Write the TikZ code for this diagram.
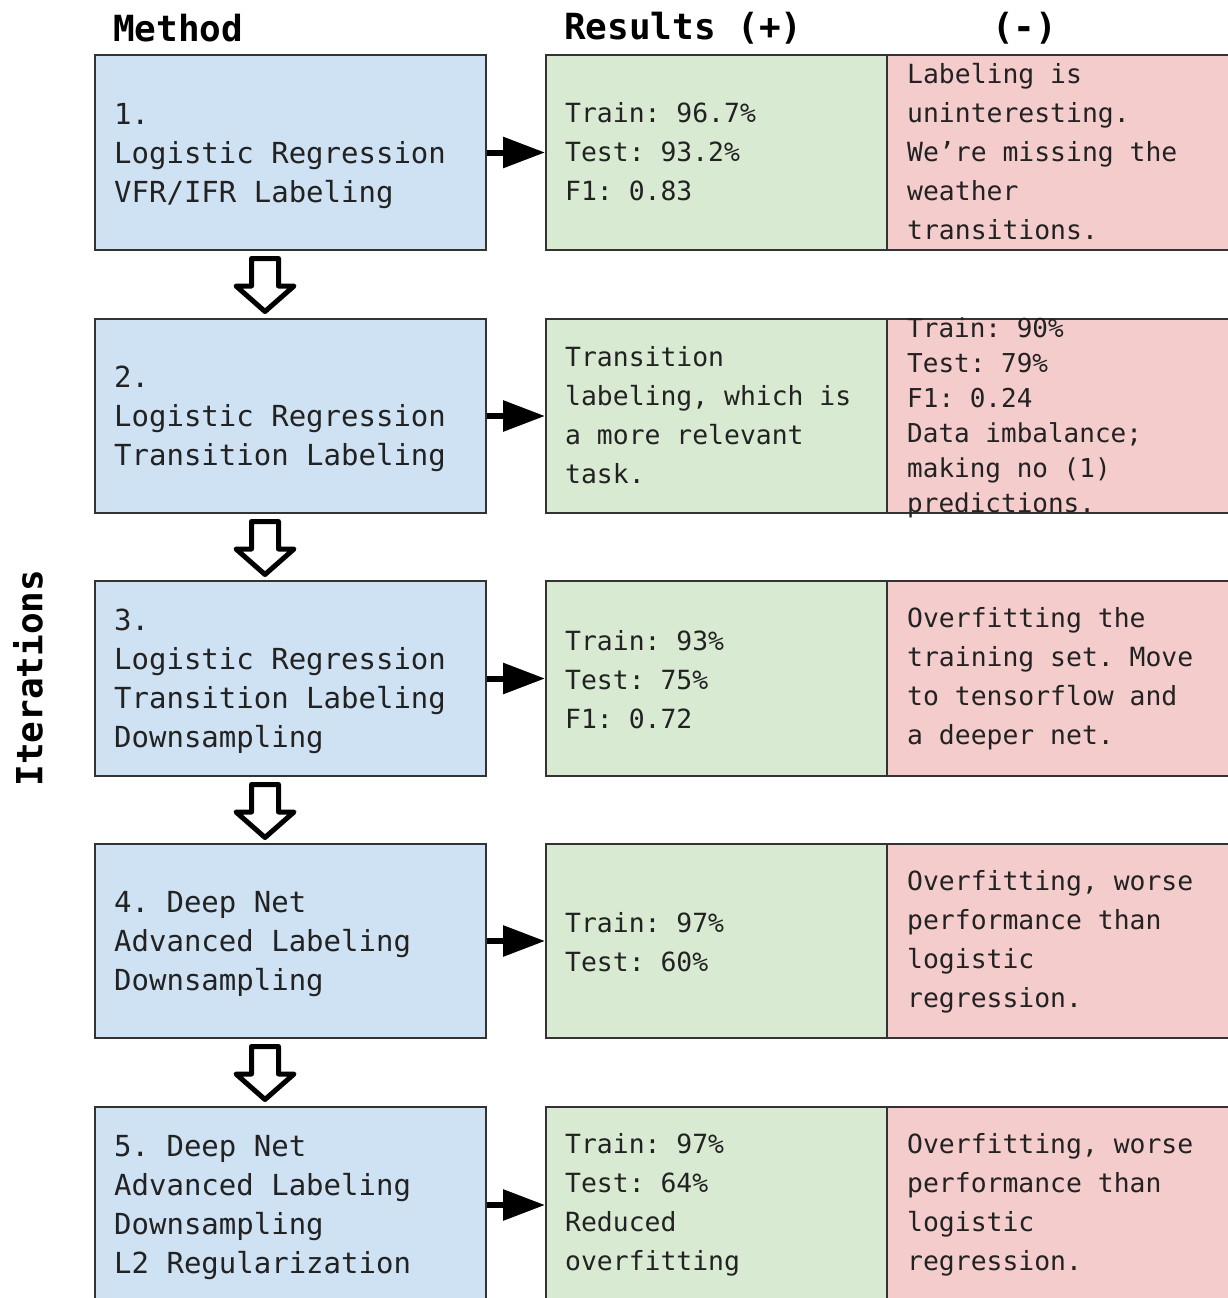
\documentclass[tikz,border=0pt]{standalone}
\usepackage{fontspec}
\setmonofont{DejaVu Sans Mono}
\usetikzlibrary{arrows.meta,calc}
\definecolor{bluef}{HTML}{CFE2F3}
\definecolor{greenf}{HTML}{D9EAD3}
\definecolor{redf}{HTML}{F4CCCC}
\definecolor{framec}{HTML}{333333}
\definecolor{txtc}{HTML}{222222}
\tikzset{
  cell/.style={draw=framec, line width=2pt, anchor=north west, inner sep=0pt},
  mbox/.style={cell, fill=bluef, minimum width=391pt},
  pbox/.style={cell, fill=greenf, minimum width=341pt},
  nbox/.style={cell, fill=redf, minimum width=342pt},
  bigtxt/.style={anchor=west, align=left, inner sep=0pt, text=txtc, font=\ttfamily\fontsize{29}{39}\selectfont},
  smalltxt/.style={anchor=west, align=left, inner sep=0pt, text=txtc, font=\ttfamily\fontsize{26.4}{39}\selectfont},
  tighttxt/.style={anchor=west, align=left, inner sep=0pt, text=txtc, font=\ttfamily\fontsize{26}{35}\selectfont},
  hdr/.style={inner sep=0pt, text=black, font=\ttfamily\bfseries\fontsize{36}{40}\selectfont},
  harrow/.style={line width=6pt, -{Triangle[length=42pt,width=30pt]}, shorten >=0pt},
  blockarr/.style={draw=black, line width=5pt, line join=round, fill=white}
}
\begin{document}
\begin{tikzpicture}[x=1pt,y=-1pt]
\useasboundingbox (0,0) rectangle (1228,1298);
\fill[white] (0,0) rectangle (1228,1298);
\clip (0,0) rectangle (1228,1298);

% headers
\node[hdr, anchor=west] (hmethod) at (113,28) {Method};
\node[hdr, anchor=west] (hres) at (564,28) {Results (+)};
\node[hdr, anchor=west] (hneg) at (992,28) {(-)};
\node[hdr, rotate=90] (hiter) at (28,678) {Iterations};

% row 1
\node[mbox, minimum height=195pt] (b1) at (94,54) {};
\node[pbox, minimum height=195pt] (g1) at (545,54) {};
\node[nbox, minimum height=195pt] (r1) at (886,54) {};
\node[bigtxt] (tb1) at ([xshift=20pt,yshift=-4pt]b1.west) {1.\\Logistic Regression\\VFR/IFR Labeling};
\node[smalltxt] (tg1) at ([xshift=20pt,yshift=1pt]g1.west) {Train: 96.7\%\\Test: 93.2\%\\F1: 0.83};
\node[smalltxt] (tr1) at ([xshift=21pt,yshift=1pt]r1.west) {Labeling is\\uninteresting.\\We’re missing the\\weather\\transitions.};

% row 2
\node[mbox, minimum height=194pt] (b2) at (94,318) {};
\node[pbox, minimum height=194pt] (g2) at (545,318) {};
\node[nbox, minimum height=194pt] (r2) at (886,318) {};
\node[bigtxt] (tb2) at ([xshift=20pt,yshift=-3pt]b2.west) {2.\\Logistic Regression\\Transition Labeling};
\node[smalltxt] (tg2) at ([xshift=20pt,yshift=1pt]g2.west) {Transition\\labeling, which is\\a more relevant\\task.};
\node[tighttxt] (tr2) at ([xshift=21pt,yshift=-2pt]r2.west) {Train: 90\%\\Test: 79\%\\F1: 0.24\\Data imbalance;\\making no (1)\\predictions.};

% row 3
\node[mbox, minimum height=195pt] (b3) at (94,580) {};
\node[pbox, minimum height=195pt] (g3) at (545,580) {};
\node[nbox, minimum height=195pt] (r3) at (886,580) {};
\node[bigtxt] (tb3) at ([xshift=20pt,yshift=-3pt]b3.west) {3.\\Logistic Regression\\Transition Labeling\\Downsampling};
\node[smalltxt] (tg3) at ([xshift=20pt,yshift=-1pt]g3.west) {Train: 93\%\\Test: 75\%\\F1: 0.72};
\node[smalltxt] (tr3) at ([xshift=21pt]r3.west) {Overfitting the\\training set. Move\\to tensorflow and\\a deeper net.};

% row 4
\node[mbox, minimum height=194pt] (b4) at (94,843) {};
\node[pbox, minimum height=194pt] (g4) at (545,843) {};
\node[nbox, minimum height=194pt] (r4) at (886,843) {};
\node[bigtxt] (tb4) at ([xshift=20pt,yshift=-3pt]b4.west) {4. Deep Net\\Advanced Labeling\\Downsampling};
\node[smalltxt] (tg4) at ([xshift=20pt,yshift=-1pt]g4.west) {Train: 97\%\\Test: 60\%};
\node[smalltxt] (tr4) at ([xshift=21pt,yshift=-1pt]r4.west) {Overfitting, worse\\performance than\\logistic\\regression.};

% row 5
\node[mbox, minimum height=196pt] (b5) at (94,1106) {};
\node[pbox, minimum height=196pt] (g5) at (545,1106) {};
\node[nbox, minimum height=196pt] (r5) at (886,1106) {};
\node[bigtxt] (tb5) at ([xshift=20pt,yshift=-3pt]b5.west) {5. Deep Net\\Advanced Labeling\\Downsampling\\L2 Regularization};
\node[smalltxt] (tg5) at ([xshift=20pt,yshift=0pt]g5.west) {Train: 97\%\\Test: 64\%\\Reduced\\overfitting};
\node[smalltxt] (tr5) at ([xshift=21pt,yshift=0pt]r5.west) {Overfitting, worse\\performance than\\logistic\\regression.};

% horizontal arrows
\foreach \i in {1,...,5}{
  \draw[harrow] (b\i.east) -- (g\i.west);
}

% hollow block arrows
\foreach \i in {1,...,4}{
  \draw[blockarr, shift={(b\i.south)}, xshift=-25.5pt]
    (-13.5,7.5) -- (13.5,7.5) -- (13.5,35) -- (29,35) -- (0,60.5) -- (-29,35) -- (-13.5,35) -- cycle;
}
\end{tikzpicture}
\end{document}
